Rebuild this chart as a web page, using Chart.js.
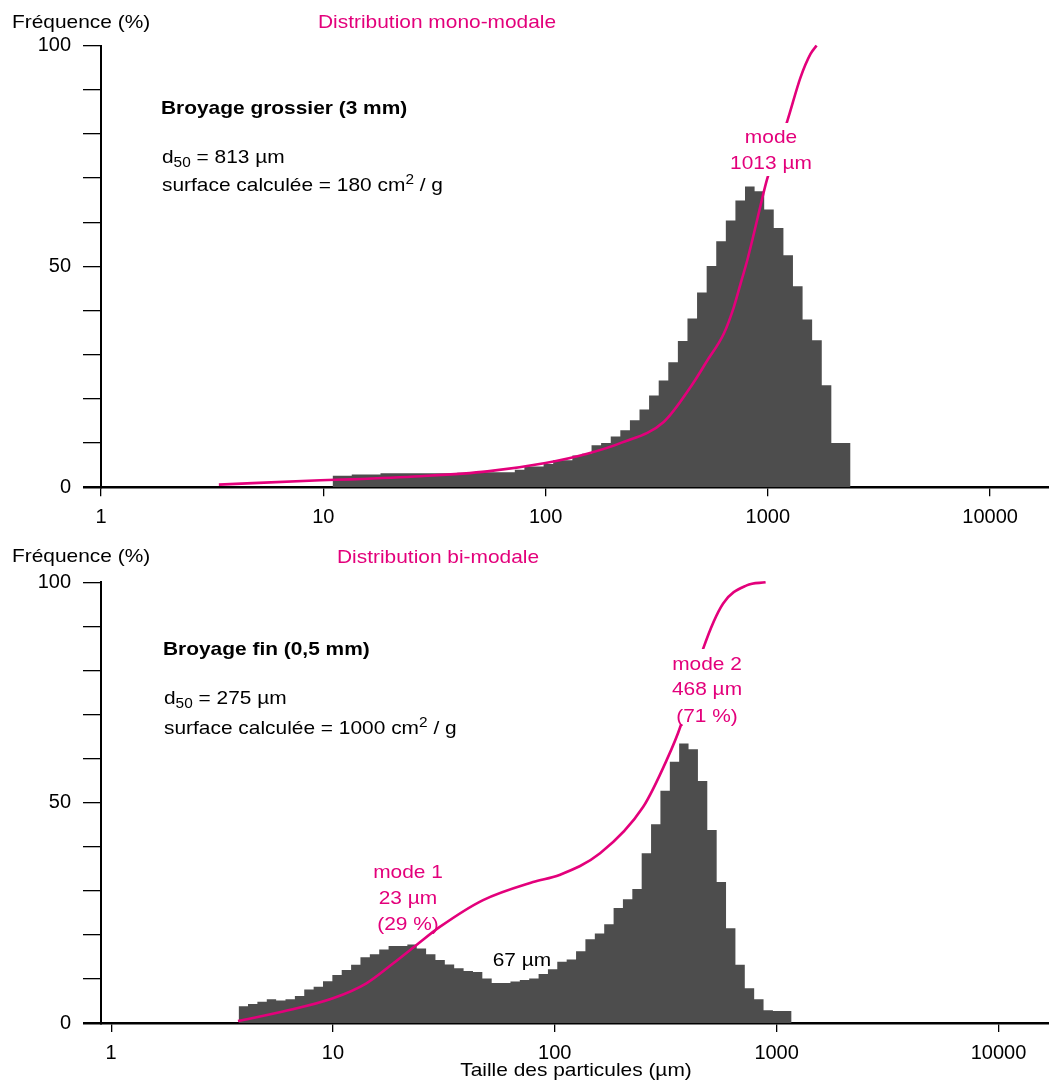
<!DOCTYPE html>
<html lang="fr">
<head>
<meta charset="utf-8">
<title>Distribution granulométrique</title>
<script src="https://cdn.jsdelivr.net/npm/chart.js@4.4.1/dist/chart.umd.min.js"></script>
<style>
  html, body { margin: 0; padding: 0; background: #fff; }
  canvas { position: absolute; left: 0; display: block; }
  #chartTop { top: 0; }
  #chartBottom { top: 535px; }
</style>
</head>
<body>
<canvas id="chartTop" width="1049" height="535"></canvas>
<canvas id="chartBottom" width="1049" height="548"></canvas>
<script>
// --- Data ---
const tickValues = [1, 10, 100, 1000, 10000];

// Broyage grossier (3 mm): class edges (µm) and frequency of each class
const coarseEdges = [11.01, 12.16, 13.43, 14.84, 16.39, 18.09, 19.98, 22.07, 24.38, 26.93,
  29.74, 32.85, 36.27, 40.06, 44.24, 48.87, 53.97, 59.61, 65.83, 72.71,
  80.30, 88.72, 97.97, 108.2, 119.5, 132.0, 145.8, 161.0, 177.8, 196.4,
  216.9, 239.6, 264.6, 292.2, 322.8, 356.5, 393.7, 434.9, 480.3, 530.5,
  585.9, 647.1, 714.6, 789.3, 871.7, 962.9, 1063, 1175, 1297, 1433,
  1582, 1748, 1930, 2132, 2355];
const coarseFreq = [2.6, 2.6, 2.6, 2.9, 2.9, 2.9, 3.2, 3.2, 3.2, 3.2,
  3.2, 3.2, 3.2, 3.2, 3.3, 3.3, 3.4, 3.4, 3.4, 3.4,
  4.0, 4.7, 4.7, 5.3, 6.1, 6.1, 7.2, 7.6, 9.5, 10.0,
  11.5, 12.9, 15.2, 17.6, 20.8, 24.2, 28.3, 33.1, 38.2, 44.1,
  50.1, 55.7, 60.4, 64.9, 68.1, 67.0, 62.9, 58.7, 52.5, 45.5,
  38.0, 33.3, 23.1, 10.0];
// cumulative curve
const coarseCurveSize = [3.39, 9.72, 13.3, 27.4, 54.7, 100, 154, 217, 340, 449, 534, 634, 703, 754, 808, 865, 927, 993, 1223, 1403, 1556, 1657];
const coarseCurvePct = [0.6, 1.6, 1.8, 2.5, 3.6, 5.5, 7.6, 10.0, 14.8, 22.7, 28.7, 34.8, 40.8, 46.1, 51.4, 57.4, 63.8, 69.8, 82.9, 92.8, 98.1, 100];

// Broyage fin (0,5 mm)
const fineEdges = [3.755, 4.140, 4.563, 5.030, 5.543, 6.108, 6.734, 7.421, 8.180, 9.016,
  9.936, 10.95, 12.07, 13.30, 14.66, 16.16, 17.81, 19.63, 21.64, 23.85,
  26.29, 28.97, 31.93, 35.19, 38.80, 42.76, 47.13, 51.94, 57.26, 63.11,
  69.56, 76.67, 84.51, 93.13, 102.6, 113.1, 124.7, 137.4, 151.5, 167.0,
  184.1, 202.8, 223.6, 246.4, 271.6, 299.3, 330.0, 363.6, 400.8, 441.8,
  486.9, 536.7, 591.5, 652.0, 718.6, 792.1, 873.0, 962.1, 1060, 1168];
const fineFreq = [3.4, 3.8, 4.3, 4.8, 5.4, 5.1, 5.4, 6.1, 7.6, 8.2,
  9.5, 10.9, 12.0, 13.2, 14.9, 15.6, 16.7, 17.5, 17.5, 17.8,
  16.9, 15.6, 14.3, 13.3, 12.4, 11.8, 11.6, 10.1, 9.1, 9.1,
  9.4, 9.75, 10.1, 11.1, 12.2, 13.9, 14.4, 16.3, 19.0, 20.3,
  22.4, 26.1, 28.1, 30.4, 38.5, 45.1, 52.7, 59.3, 63.4, 62.1,
  54.9, 43.8, 32.0, 21.5, 13.2, 7.9, 5.4, 2.9, 2.7];
const fineCurveSize = [3.73, 5.95, 10.0, 14.15, 18.65, 23.8, 30.3, 47.5, 79.8, 105, 160, 250, 319, 369, 467, 574, 733, 892];
const fineCurvePct = [0.45, 2.6, 5.6, 9.0, 13.5, 17.7, 21.8, 27.9, 32.0, 33.6, 38.5, 49.0, 59.6, 67.4, 85.0, 95.2, 99.3, 100];

// --- Styling ---
const FONT = '"Liberation Sans", Arial, Helvetica, sans-serif';
const MAGENTA = '#e3007b';
const BAR = '#4d4d4d';
const TEXT_SIZE = 19;
const STRETCH = 1.1;

function histogramPoints(edges, freq) {
    // one point per class left edge, plus the last right edge (stepped line)
    const pts = freq.map((v, i) => ({ x: edges[i], y: v }));
    pts.push({ x: edges[edges.length - 1], y: freq[freq.length - 1] });
    return pts;
}

function curvePoints(sizes, pct) {
    return sizes.map((s, i) => ({ x: s, y: pct[i] }));
}

// draws text made of parts (normal / subscript / superscript)
function drawRich(ctx, it) {
    const parts = it.parts || [{ t: it.text }];
    const size = it.size || TEXT_SIZE;
    const fontFor = p => (it.bold ? 'bold ' : '') + ((p.sub || p.sup) ? Math.round(size * 0.72) : size) + 'px ' + FONT;
    ctx.save();
    ctx.translate(it.x, it.y);
    ctx.scale(STRETCH, 1);
    ctx.fillStyle = it.color || '#000';
    ctx.textBaseline = 'alphabetic';
    ctx.textAlign = 'left';
    let total = 0;
    parts.forEach(p => { ctx.font = fontFor(p); total += ctx.measureText(p.t).width; });
    let x = it.align === 'center' ? -total / 2 : 0;
    parts.forEach(p => {
        ctx.font = fontFor(p);
        const dy = p.sub ? 4 : (p.sup ? -7 : 0);
        ctx.fillText(p.t, x, dy);
        x += ctx.measureText(p.t).width;
    });
    ctx.restore();
}

const labelsPlugin = {
    id: 'labels',
    afterDraw(chart, args, opts) {
        const ctx = chart.ctx;
        (opts.boxes || []).forEach(b => {
            ctx.fillStyle = '#fff';
            ctx.fillRect(b.x, b.y, b.w, b.h);
        });
        (opts.items || []).forEach(it => drawRich(ctx, it));
    }
};

function makeChart(canvasId, cfg) {
    return new Chart(document.getElementById(canvasId), {
        type: 'line',
        data: {
            datasets: [{
                label: 'Cumul',
                data: curvePoints(cfg.curveSize, cfg.curvePct),
                borderColor: MAGENTA,
                borderWidth: 2.6,
                pointRadius: 0,
                cubicInterpolationMode: 'monotone',
                fill: false,
                clip: false,
                order: 0
            }, {
                label: 'Fréquence',
                data: histogramPoints(cfg.edges, cfg.freq),
                stepped: 'after',
                borderColor: 'rgba(0,0,0,0)',
                borderWidth: 1,
                backgroundColor: BAR,
                pointRadius: 0,
                fill: 'origin',
                order: 1
            }]
        },
        options: {
            responsive: false,
            animation: false,
            events: [],
            layout: { padding: { top: cfg.top, left: 0, right: 0, bottom: 0 } },
            scales: {
                x: {
                    type: 'logarithmic',
                    min: cfg.xMin,
                    max: cfg.xMax,
                    afterBuildTicks: s => { s.ticks = tickValues.map(v => ({ value: v })); },
                    afterFit: s => { s.height = cfg.xHeight; },
                    grid: { drawOnChartArea: false, drawTicks: true, tickLength: 9, color: '#000', lineWidth: 1.3 },
                    border: { display: true, color: '#000', width: 2.5 },
                    ticks: {
                        color: '#000',
                        font: { family: FONT, size: 20 },
                        padding: 9,
                        maxRotation: 0,
                        autoSkip: false,
                        callback: v => String(v)
                    }
                },
                y: {
                    min: 0,
                    max: 100,
                    afterFit: s => { s.width = 101; },
                    grid: {
                        drawOnChartArea: false,
                        tickLength: 18,
                        color: '#000',
                        lineWidth: c => (c.tick && c.tick.value === 0 ? 2.5 : 1.3)
                    },
                    border: { display: true, color: '#000', width: 2 },
                    ticks: {
                        stepSize: 10,
                        padding: 12,
                        color: '#000',
                        font: { family: FONT, size: 20 },
                        callback: v => (v % 50 === 0 ? String(v) : '')
                    }
                }
            },
            plugins: {
                legend: { display: false },
                tooltip: { enabled: false },
                labels: { boxes: cfg.boxes, items: cfg.items }
            }
        },
        plugins: [labelsPlugin]
    });
}

// --- Top chart: mono-modal ---
makeChart('chartTop', {
    edges: coarseEdges, freq: coarseFreq,
    curveSize: coarseCurveSize, curvePct: coarseCurvePct,
    xMin: 1, xMax: 18400, top: 45.5, xHeight: 47.7,
    boxes: [{ x: 728, y: 123, w: 88, h: 53 }],
    items: [
        { x: 12, y: 28, text: 'Fréquence (%)' },
        { x: 318, y: 28, text: 'Distribution mono-modale', color: MAGENTA },
        { x: 161, y: 114, text: 'Broyage grossier (3 mm)', bold: true },
        { x: 162, y: 163, parts: [{ t: 'd' }, { t: '50', sub: true }, { t: ' = 813 µm' }] },
        { x: 162, y: 191, parts: [{ t: 'surface calculée = 180 cm' }, { t: '2', sup: true }, { t: ' / g' }] },
        { x: 771, y: 143, text: 'mode', color: MAGENTA, align: 'center' },
        { x: 771, y: 169, text: '1013 µm', color: MAGENTA, align: 'center' }
    ]
});

// --- Bottom chart: bi-modal ---
makeChart('chartBottom', {
    edges: fineEdges, freq: fineFreq,
    curveSize: fineCurveSize, curvePct: fineCurvePct,
    xMin: 0.9, xMax: 16900, top: 47.3, xHeight: 60,
    boxes: [{ x: 668, y: 114, w: 78, h: 75 }],
    items: [
        { x: 12, y: 27, text: 'Fréquence (%)' },
        { x: 337, y: 28, text: 'Distribution bi-modale', color: MAGENTA },
        { x: 163, y: 120, text: 'Broyage fin (0,5 mm)', bold: true },
        { x: 164, y: 169, parts: [{ t: 'd' }, { t: '50', sub: true }, { t: ' = 275 µm' }] },
        { x: 164, y: 199, parts: [{ t: 'surface calculée = 1000 cm' }, { t: '2', sup: true }, { t: ' / g' }] },
        { x: 408, y: 343, text: 'mode 1', color: MAGENTA, align: 'center' },
        { x: 408, y: 369, text: '23 µm', color: MAGENTA, align: 'center' },
        { x: 408, y: 395, text: '(29 %)', color: MAGENTA, align: 'center' },
        { x: 522, y: 431, text: '67 µm', align: 'center' },
        { x: 707, y: 135, text: 'mode 2', color: MAGENTA, align: 'center' },
        { x: 707, y: 160, text: '468 µm', color: MAGENTA, align: 'center' },
        { x: 707, y: 187, text: '(71 %)', color: MAGENTA, align: 'center' },
        { x: 576, y: 541, text: 'Taille des particules (µm)', align: 'center' }
    ]
});
</script>
</body>
</html>
